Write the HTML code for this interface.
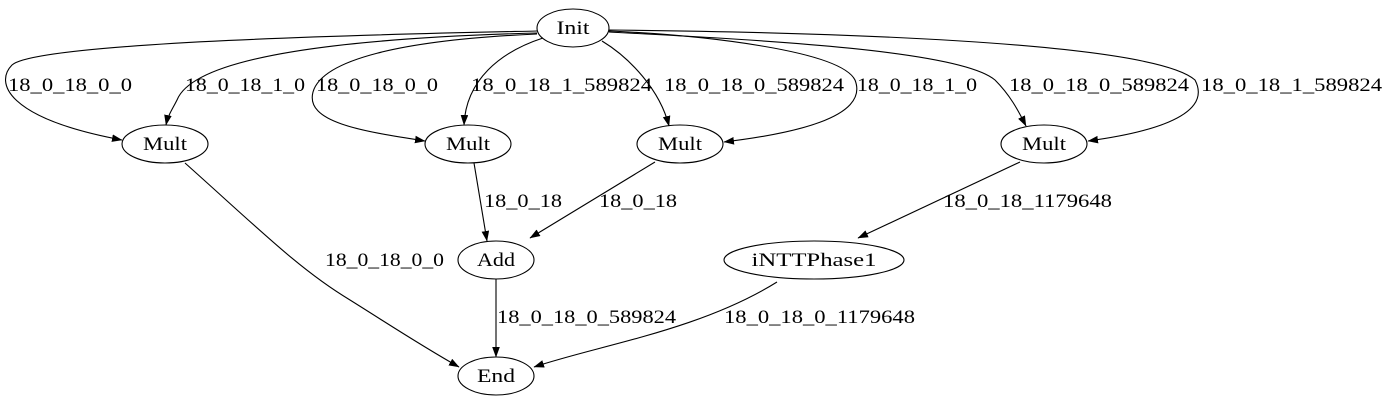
<!DOCTYPE html>
<html><head><meta charset="utf-8"><style>
html,body{margin:0;padding:0;background:#fff;}
svg{display:block;}
text{font-family:"Liberation Serif",serif;font-size:19px;fill:#000;}
</style></head><body>
<svg width="1388" height="407" viewBox="0 0 1388 407" xmlns="http://www.w3.org/2000/svg">
<defs><marker id="a" markerUnits="userSpaceOnUse" markerWidth="11" markerHeight="8" refX="10" refY="3.8" orient="auto"><path d="M0,0 L10.5,3.8 L0,7.6 z" fill="#000"/></marker></defs>
<g fill="none" stroke="#000" stroke-width="1.1">
<ellipse cx="573" cy="28" rx="36" ry="19"/>
<ellipse cx="165" cy="144" rx="43" ry="19"/>
<ellipse cx="468" cy="144" rx="43" ry="19"/>
<ellipse cx="680" cy="144" rx="43" ry="19"/>
<ellipse cx="1044" cy="144" rx="43" ry="19"/>
<ellipse cx="496" cy="260" rx="38" ry="19"/>
<ellipse cx="814" cy="260" rx="90" ry="19"/>
<ellipse cx="496" cy="376" rx="38" ry="19"/>
<g marker-end="url(#a)">
<path d="M537,31 C450,33 40,40 12,65 C-5,82 5,118 122,140"/>
<path d="M537,33 C350,38 195,55 177,100 C172,110 168,115 166,125"/>
<path d="M537,34 C400,40 322,60 313,92 C305,122 360,131 425,141"/>
<path d="M543,38 C500,52 466,80 464,125"/>
<path d="M602,41 C630,58 660,90 669,126"/>
<path d="M609,31 C700,35 840,50 855,80 C870,118 790,134 724,142"/>
<path d="M609,32 C760,40 960,50 995,80 C1010,95 1018,110 1026,126"/>
<path d="M609,30 C800,32 1150,40 1195,80 C1215,118 1140,134 1088,141"/>
<path d="M185,163 C260,230 300,270 350,300 C390,325 420,345 459,367"/>
<path d="M474,163 L487,241"/>
<path d="M655,162 L530,238"/>
<path d="M1020,162 L858,238"/>
<path d="M496,279 L496,357"/>
<path d="M777,282 C700,330 600,345 534,367"/>
</g></g>
<g text-anchor="middle" lengthAdjust="spacingAndGlyphs">
<text x="573" y="34" textLength="33" lengthAdjust="spacingAndGlyphs">Init</text>
<text x="165" y="150" textLength="44" lengthAdjust="spacingAndGlyphs">Mult</text>
<text x="468" y="150" textLength="44" lengthAdjust="spacingAndGlyphs">Mult</text>
<text x="680" y="150" textLength="44" lengthAdjust="spacingAndGlyphs">Mult</text>
<text x="1044" y="150" textLength="44" lengthAdjust="spacingAndGlyphs">Mult</text>
<text x="496" y="266" textLength="38" lengthAdjust="spacingAndGlyphs">Add</text>
<text x="814" y="266" textLength="125" lengthAdjust="spacingAndGlyphs">iNTTPhase1</text>
<text x="496" y="382" textLength="38" lengthAdjust="spacingAndGlyphs">End</text>
</g>
<text x="8" y="91" textLength="124" lengthAdjust="spacingAndGlyphs">18_0_18_0_0</text>
<text x="185" y="91" textLength="120" lengthAdjust="spacingAndGlyphs">18_0_18_1_0</text>
<text x="316" y="91" textLength="122" lengthAdjust="spacingAndGlyphs">18_0_18_0_0</text>
<text x="471" y="91" textLength="181" lengthAdjust="spacingAndGlyphs">18_0_18_1_589824</text>
<text x="664" y="91" textLength="180" lengthAdjust="spacingAndGlyphs">18_0_18_0_589824</text>
<text x="857" y="91" textLength="120" lengthAdjust="spacingAndGlyphs">18_0_18_1_0</text>
<text x="1009" y="91" textLength="180" lengthAdjust="spacingAndGlyphs">18_0_18_0_589824</text>
<text x="1201" y="91" textLength="181" lengthAdjust="spacingAndGlyphs">18_0_18_1_589824</text>
<text x="484" y="207" textLength="78" lengthAdjust="spacingAndGlyphs">18_0_18</text>
<text x="599" y="207" textLength="78" lengthAdjust="spacingAndGlyphs">18_0_18</text>
<text x="943" y="207" textLength="169" lengthAdjust="spacingAndGlyphs">18_0_18_1179648</text>
<text x="325" y="266" textLength="119" lengthAdjust="spacingAndGlyphs">18_0_18_0_0</text>
<text x="497" y="323" textLength="179" lengthAdjust="spacingAndGlyphs">18_0_18_0_589824</text>
<text x="724" y="323" textLength="191" lengthAdjust="spacingAndGlyphs">18_0_18_0_1179648</text>
</svg>
</body></html>
